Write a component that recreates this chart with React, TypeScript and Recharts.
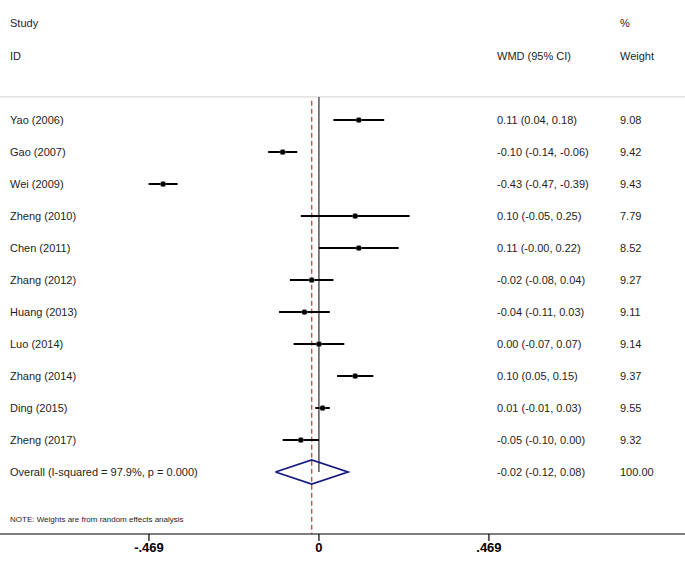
import { ComposedChart, Scatter, ErrorBar, XAxis, YAxis, ReferenceLine } from "recharts"

const studies = ["Yao (2006)", "Gao (2007)", "Wei (2009)", "Zheng (2010)", "Chen (2011)", "Zhang (2012)", "Huang (2013)", "Luo (2014)", "Zhang (2014)", "Ding (2015)", "Zheng (2017)"]
const estimates = [0.11, -0.10, -0.43, 0.10, 0.11, -0.02, -0.04, 0.00, 0.10, 0.01, -0.05]
const lower = [0.04, -0.14, -0.47, -0.05, -0.00, -0.08, -0.11, -0.07, 0.05, -0.01, -0.10]
const upper = [0.18, -0.06, -0.39, 0.25, 0.22, 0.04, 0.03, 0.07, 0.15, 0.03, 0.00]
const weights = ["9.08", "9.42", "9.43", "7.79", "8.52", "9.27", "9.11", "9.14", "9.37", "9.55", "9.32"]

const overallLabel = "Overall  (I-squared = 97.9%, p = 0.000)"
const overallEst = -0.02
const overallLo = -0.12
const overallHi = 0.08
const overallWeight = "100.00"

const xTicks = [-0.469, 0, 0.469]

// keep the sign of -0.00 as printed
const fmt = (v: number) => (Object.is(v, -0) ? "-" : "") + v.toFixed(2)

const rows = studies.map((s, i) => ({
  name: s,
  x: estimates[i],
  y: i,
  err: [estimates[i] - lower[i], upper[i] - estimates[i]],
  ci: `${fmt(estimates[i])} (${fmt(lower[i])}, ${fmt(upper[i])})`,
  weight: weights[i],
}))

const overallRow = studies.length
const overallText = [{
  name: overallLabel,
  x: overallEst,
  y: overallRow,
  ci: `${fmt(overallEst)} (${fmt(overallLo)}, ${fmt(overallHi)})`,
  weight: overallWeight,
}]

// diamond outline, half-height in row units
const dh = 0.38
const diamond = [
  { x: overallLo, y: overallRow },
  { x: overallEst, y: overallRow - dh },
  { x: overallHi, y: overallRow },
  { x: overallEst, y: overallRow + dh },
  { x: overallLo, y: overallRow },
]

const font = "Arial, 'Liberation Sans', sans-serif"
const txt = "#1e1e1e"
const topRule = -0.72
const yBottom = 12.94

function RowText(props: any) {
  const { cy, payload, marker } = props
  return (
    <g>
      {marker && (
        <g>
          <rect x={props.cx - 3} y={cy - 3} width={6} height={6} fill="#bbb" opacity={0.6} />
          <circle cx={props.cx} cy={cy} r={2.6} fill="#000" />
        </g>
      )}
      <text x={10} y={cy} dy="0.35em" fontSize={11} fill={txt} fontFamily={font}>{payload.name}</text>
      <text x={497} y={cy} dy="0.35em" fontSize={11} fill={txt} fontFamily={font}>{payload.ci}</text>
      <text x={620} y={cy} dy="0.35em" fontSize={11} fill={txt} fontFamily={font}>{payload.weight}</text>
    </g>
  )
}

const header = (text: string, left: number, top: number, size = 11) => (
  <div style={{ position: "absolute", left, top, fontSize: size, fontFamily: font, color: txt, lineHeight: 1, whiteSpace: "nowrap" }}>{text}</div>
)

export default function App() {
  return (
    <div style={{ position: "absolute", left: 0, top: 0, width: 685, height: 568, background: "#fff" }}>
      <ComposedChart width={685} height={568} margin={{ top: 0, right: 0, bottom: 0, left: 0 }}>
        <XAxis
          type="number"
          dataKey="x"
          domain={[-0.88, 1.01]}
          ticks={xTicks}
          tickFormatter={(v: number) => (v === 0 ? "0" : v < 0 ? "-.469" : ".469")}
          allowDataOverflow
          height={34}
          tickSize={7}
          axisLine={{ stroke: "#000", strokeWidth: 1.2 }}
          tickLine={{ stroke: "#000", strokeWidth: 1.2 }}
          tick={{ fill: "#000", fontSize: 13, fontWeight: "bold", fontFamily: font }}
        />
        <YAxis type="number" dataKey="y" domain={[-3.75, 12.9375]} reversed hide allowDataOverflow />
        <ReferenceLine y={topRule} stroke="#d0d0d0" strokeWidth={1} />
        <ReferenceLine segment={[{ x: 0, y: topRule }, { x: 0, y: overallRow }]} stroke="#000" strokeWidth={1} />
        <ReferenceLine segment={[{ x: 0, y: overallRow }, { x: 0, y: yBottom }]} stroke="#1a1a80" strokeWidth={1} />
        <ReferenceLine
          segment={[{ x: overallEst, y: -0.6 }, { x: overallEst, y: yBottom }]}
          stroke="#d0504a"
          strokeWidth={1.4}
          strokeDasharray="5 3"
          ifOverflow="visible"
        />
        <Scatter data={rows} isAnimationActive={false} shape={(p: any) => <RowText {...p} marker />}>
          <ErrorBar dataKey="err" direction="x" width={0} stroke="#000" strokeWidth={2} />
        </Scatter>
        <Scatter data={diamond} isAnimationActive={false} line={{ stroke: "#1a1a80", strokeWidth: 1.8 }} lineType="joint" shape={() => <g />} />
        <Scatter data={overallText} isAnimationActive={false} shape={(p: any) => <RowText {...p} marker={false} />} />
      </ComposedChart>
      {header("Study", 10, 18)}
      {header("%", 620, 18)}
      {header("ID", 10, 51)}
      {header("WMD (95% CI)", 497, 51)}
      {header("Weight", 620, 51)}
      {header("NOTE: Weights are from random effects analysis", 10, 516, 8)}
    </div>
  )
}
